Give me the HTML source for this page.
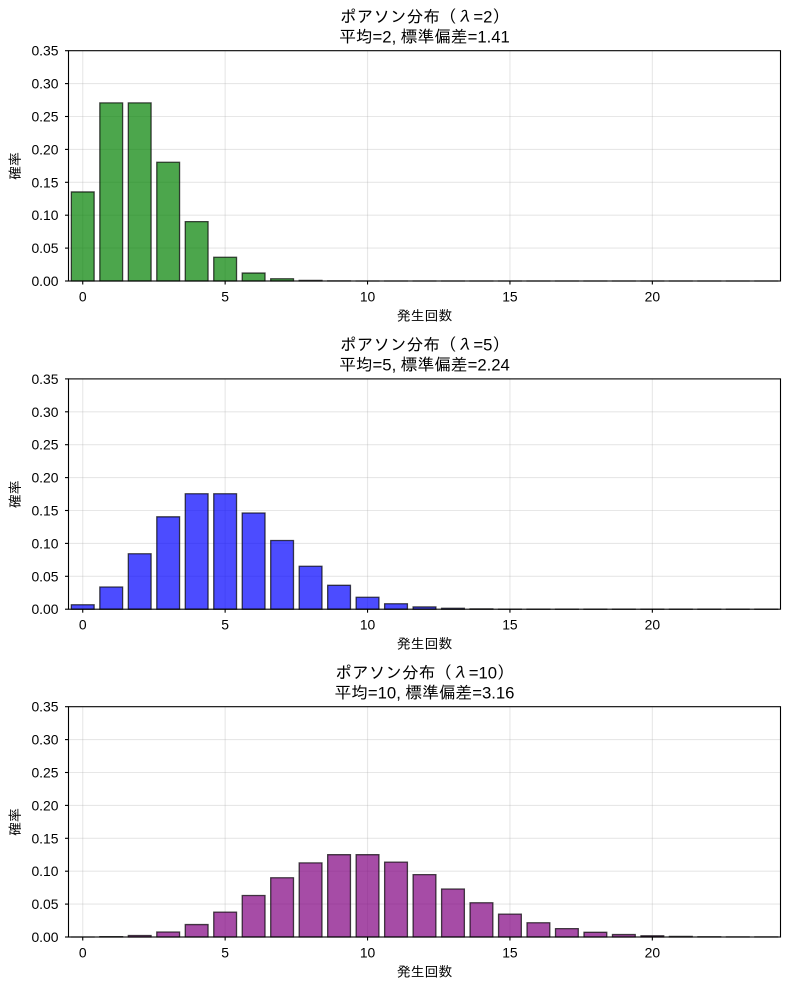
<!DOCTYPE html>
<html><head><meta charset="utf-8">
<style>
html,body{margin:0;padding:0;background:#fff;}
svg{display:block;}
text{font-family:"Liberation Sans","IPAGothic","Noto Sans CJK JP",sans-serif;fill:#000;}
.t{font-size:13.9px;}
.ti{font-size:16.7px;}
.lam{font-family:"IPAGothic","Noto Sans CJK JP",sans-serif;}
</style></head>
<body>
<svg width="790" height="989" viewBox="0 0 790 989" xmlns="http://www.w3.org/2000/svg">
<rect width="790" height="989" fill="#fff"/>
<defs>
<g id="frame">
  <g stroke="#b0b0b0" stroke-opacity="0.3" stroke-width="1.1">
    <line x1="68.5" x2="780.5" y1="248.1" y2="248.1"/>
    <line x1="68.5" x2="780.5" y1="215.2" y2="215.2"/>
    <line x1="68.5" x2="780.5" y1="182.3" y2="182.3"/>
    <line x1="68.5" x2="780.5" y1="149.4" y2="149.4"/>
    <line x1="68.5" x2="780.5" y1="116.5" y2="116.5"/>
    <line x1="68.5" x2="780.5" y1="83.6" y2="83.6"/>
    <line x1="82.74" x2="82.74" y1="50.7" y2="281"/>
    <line x1="225.14" x2="225.14" y1="50.7" y2="281"/>
    <line x1="367.54" x2="367.54" y1="50.7" y2="281"/>
    <line x1="509.94" x2="509.94" y1="50.7" y2="281"/>
    <line x1="652.34" x2="652.34" y1="50.7" y2="281"/>
  </g>
</g>
<g id="axes">
  <rect x="68.5" y="50.7" width="712" height="230.3" fill="none" stroke="#000" stroke-width="1.1"/>
  <g stroke="#000" stroke-width="1.1">
    <line x1="65" x2="68.5" y1="281" y2="281"/>
    <line x1="65" x2="68.5" y1="248.1" y2="248.1"/>
    <line x1="65" x2="68.5" y1="215.2" y2="215.2"/>
    <line x1="65" x2="68.5" y1="182.3" y2="182.3"/>
    <line x1="65" x2="68.5" y1="149.4" y2="149.4"/>
    <line x1="65" x2="68.5" y1="116.5" y2="116.5"/>
    <line x1="65" x2="68.5" y1="83.6" y2="83.6"/>
    <line x1="65" x2="68.5" y1="50.7" y2="50.7"/>
    <line x1="82.74" x2="82.74" y1="281" y2="284.5"/>
    <line x1="225.14" x2="225.14" y1="281" y2="284.5"/>
    <line x1="367.54" x2="367.54" y1="281" y2="284.5"/>
    <line x1="509.94" x2="509.94" y1="281" y2="284.5"/>
    <line x1="652.34" x2="652.34" y1="281" y2="284.5"/>
  </g>
  <g class="t" text-anchor="end">
    <text x="58.5" y="286">0.00</text>
    <text x="58.5" y="253.1">0.05</text>
    <text x="58.5" y="220.2">0.10</text>
    <text x="58.5" y="187.3">0.15</text>
    <text x="58.5" y="154.4">0.20</text>
    <text x="58.5" y="121.5">0.25</text>
    <text x="58.5" y="88.6">0.30</text>
    <text x="58.5" y="55.7">0.35</text>
  </g>
  <g class="t" text-anchor="middle">
    <text x="82.74" y="301.5">0</text>
    <text x="225.14" y="301.5">5</text>
    <text x="367.54" y="301.5">10</text>
    <text x="509.94" y="301.5">15</text>
    <text x="652.34" y="301.5">20</text>
    <text x="424.5" y="320.5">発生回数</text>
  </g>
  <text class="t" text-anchor="middle" transform="translate(20,166) rotate(-90)">確率</text>
</g>
</defs>

<!-- Subplot 1 -->
<g>
  <use href="#frame"/>
  <g transform="translate(82.74,281) scale(28.48,-658)" fill="green" fill-opacity="0.7" stroke="#000" stroke-opacity="0.7" stroke-width="1.3">
    <rect vector-effect="non-scaling-stroke" x="-0.4" y="0" width="0.8" height="0.135335"/>
    <rect vector-effect="non-scaling-stroke" x="0.6" y="0" width="0.8" height="0.270671"/>
    <rect vector-effect="non-scaling-stroke" x="1.6" y="0" width="0.8" height="0.270671"/>
    <rect vector-effect="non-scaling-stroke" x="2.6" y="0" width="0.8" height="0.180447"/>
    <rect vector-effect="non-scaling-stroke" x="3.6" y="0" width="0.8" height="0.090224"/>
    <rect vector-effect="non-scaling-stroke" x="4.6" y="0" width="0.8" height="0.036089"/>
    <rect vector-effect="non-scaling-stroke" x="5.6" y="0" width="0.8" height="0.012030"/>
    <rect vector-effect="non-scaling-stroke" x="6.6" y="0" width="0.8" height="0.003437"/>
    <rect vector-effect="non-scaling-stroke" x="7.6" y="0" width="0.8" height="0.000859"/>
    <rect vector-effect="non-scaling-stroke" x="8.6" y="0" width="0.8" height="0.000191"/>
    <rect vector-effect="non-scaling-stroke" x="9.6" y="0" width="0.8" height="0.000038"/>
    <rect vector-effect="non-scaling-stroke" x="10.6" y="0" width="0.8" height="0.000007"/>
    <rect vector-effect="non-scaling-stroke" x="11.6" y="0" width="0.8" height="0.000001"/>
    <rect vector-effect="non-scaling-stroke" x="12.6" y="0" width="0.8" height="0.000001"/>
    <rect vector-effect="non-scaling-stroke" x="13.6" y="0" width="0.8" height="0.000001"/>
    <rect vector-effect="non-scaling-stroke" x="14.6" y="0" width="0.8" height="0.000001"/>
    <rect vector-effect="non-scaling-stroke" x="15.6" y="0" width="0.8" height="0.000001"/>
    <rect vector-effect="non-scaling-stroke" x="16.6" y="0" width="0.8" height="0.000001"/>
    <rect vector-effect="non-scaling-stroke" x="17.6" y="0" width="0.8" height="0.000001"/>
    <rect vector-effect="non-scaling-stroke" x="18.6" y="0" width="0.8" height="0.000001"/>
    <rect vector-effect="non-scaling-stroke" x="19.6" y="0" width="0.8" height="0.000001"/>
    <rect vector-effect="non-scaling-stroke" x="20.6" y="0" width="0.8" height="0.000001"/>
    <rect vector-effect="non-scaling-stroke" x="21.6" y="0" width="0.8" height="0.000001"/>
    <rect vector-effect="non-scaling-stroke" x="22.6" y="0" width="0.8" height="0.000001"/>
    <rect vector-effect="non-scaling-stroke" x="23.6" y="0" width="0.8" height="0.000001"/>
  </g>
  <use href="#axes"/>
  <g class="ti" text-anchor="middle">
    <text x="424.5" y="22.5">ポアソン分布（<tspan class="lam">λ</tspan>=2）</text>
    <text x="424.5" y="42.5">平均=2, 標準偏差=1.41</text>
  </g>
</g>

<!-- Subplot 2 -->
<g transform="translate(0,328.2)">
  <use href="#frame"/>
  <g transform="translate(82.74,281) scale(28.48,-658)" fill="blue" fill-opacity="0.7" stroke="#000" stroke-opacity="0.7" stroke-width="1.3">
    <rect vector-effect="non-scaling-stroke" x="-0.4" y="0" width="0.8" height="0.006738"/>
    <rect vector-effect="non-scaling-stroke" x="0.6" y="0" width="0.8" height="0.033690"/>
    <rect vector-effect="non-scaling-stroke" x="1.6" y="0" width="0.8" height="0.084224"/>
    <rect vector-effect="non-scaling-stroke" x="2.6" y="0" width="0.8" height="0.140374"/>
    <rect vector-effect="non-scaling-stroke" x="3.6" y="0" width="0.8" height="0.175467"/>
    <rect vector-effect="non-scaling-stroke" x="4.6" y="0" width="0.8" height="0.175467"/>
    <rect vector-effect="non-scaling-stroke" x="5.6" y="0" width="0.8" height="0.146223"/>
    <rect vector-effect="non-scaling-stroke" x="6.6" y="0" width="0.8" height="0.104445"/>
    <rect vector-effect="non-scaling-stroke" x="7.6" y="0" width="0.8" height="0.065278"/>
    <rect vector-effect="non-scaling-stroke" x="8.6" y="0" width="0.8" height="0.036266"/>
    <rect vector-effect="non-scaling-stroke" x="9.6" y="0" width="0.8" height="0.018133"/>
    <rect vector-effect="non-scaling-stroke" x="10.6" y="0" width="0.8" height="0.008242"/>
    <rect vector-effect="non-scaling-stroke" x="11.6" y="0" width="0.8" height="0.003434"/>
    <rect vector-effect="non-scaling-stroke" x="12.6" y="0" width="0.8" height="0.001321"/>
    <rect vector-effect="non-scaling-stroke" x="13.6" y="0" width="0.8" height="0.000472"/>
    <rect vector-effect="non-scaling-stroke" x="14.6" y="0" width="0.8" height="0.000157"/>
    <rect vector-effect="non-scaling-stroke" x="15.6" y="0" width="0.8" height="0.000049"/>
    <rect vector-effect="non-scaling-stroke" x="16.6" y="0" width="0.8" height="0.000015"/>
    <rect vector-effect="non-scaling-stroke" x="17.6" y="0" width="0.8" height="0.000004"/>
    <rect vector-effect="non-scaling-stroke" x="18.6" y="0" width="0.8" height="0.000001"/>
    <rect vector-effect="non-scaling-stroke" x="19.6" y="0" width="0.8" height="0.000001"/>
    <rect vector-effect="non-scaling-stroke" x="20.6" y="0" width="0.8" height="0.000001"/>
    <rect vector-effect="non-scaling-stroke" x="21.6" y="0" width="0.8" height="0.000001"/>
    <rect vector-effect="non-scaling-stroke" x="22.6" y="0" width="0.8" height="0.000001"/>
    <rect vector-effect="non-scaling-stroke" x="23.6" y="0" width="0.8" height="0.000001"/>
  </g>
  <use href="#axes"/>
  <g class="ti" text-anchor="middle">
    <text x="424.5" y="22.5">ポアソン分布（<tspan class="lam">λ</tspan>=5）</text>
    <text x="424.5" y="42.5">平均=5, 標準偏差=2.24</text>
  </g>
</g>

<!-- Subplot 3 -->
<g transform="translate(0,656)">
  <use href="#frame"/>
  <g transform="translate(82.74,281) scale(28.48,-658)" fill="purple" fill-opacity="0.7" stroke="#000" stroke-opacity="0.7" stroke-width="1.3">
    <rect vector-effect="non-scaling-stroke" x="-0.4" y="0" width="0.8" height="0.000045"/>
    <rect vector-effect="non-scaling-stroke" x="0.6" y="0" width="0.8" height="0.000454"/>
    <rect vector-effect="non-scaling-stroke" x="1.6" y="0" width="0.8" height="0.002270"/>
    <rect vector-effect="non-scaling-stroke" x="2.6" y="0" width="0.8" height="0.007567"/>
    <rect vector-effect="non-scaling-stroke" x="3.6" y="0" width="0.8" height="0.018917"/>
    <rect vector-effect="non-scaling-stroke" x="4.6" y="0" width="0.8" height="0.037833"/>
    <rect vector-effect="non-scaling-stroke" x="5.6" y="0" width="0.8" height="0.063055"/>
    <rect vector-effect="non-scaling-stroke" x="6.6" y="0" width="0.8" height="0.090079"/>
    <rect vector-effect="non-scaling-stroke" x="7.6" y="0" width="0.8" height="0.112599"/>
    <rect vector-effect="non-scaling-stroke" x="8.6" y="0" width="0.8" height="0.125110"/>
    <rect vector-effect="non-scaling-stroke" x="9.6" y="0" width="0.8" height="0.125110"/>
    <rect vector-effect="non-scaling-stroke" x="10.6" y="0" width="0.8" height="0.113736"/>
    <rect vector-effect="non-scaling-stroke" x="11.6" y="0" width="0.8" height="0.094780"/>
    <rect vector-effect="non-scaling-stroke" x="12.6" y="0" width="0.8" height="0.072908"/>
    <rect vector-effect="non-scaling-stroke" x="13.6" y="0" width="0.8" height="0.052077"/>
    <rect vector-effect="non-scaling-stroke" x="14.6" y="0" width="0.8" height="0.034718"/>
    <rect vector-effect="non-scaling-stroke" x="15.6" y="0" width="0.8" height="0.021699"/>
    <rect vector-effect="non-scaling-stroke" x="16.6" y="0" width="0.8" height="0.012764"/>
    <rect vector-effect="non-scaling-stroke" x="17.6" y="0" width="0.8" height="0.007091"/>
    <rect vector-effect="non-scaling-stroke" x="18.6" y="0" width="0.8" height="0.003732"/>
    <rect vector-effect="non-scaling-stroke" x="19.6" y="0" width="0.8" height="0.001866"/>
    <rect vector-effect="non-scaling-stroke" x="20.6" y="0" width="0.8" height="0.000889"/>
    <rect vector-effect="non-scaling-stroke" x="21.6" y="0" width="0.8" height="0.000404"/>
    <rect vector-effect="non-scaling-stroke" x="22.6" y="0" width="0.8" height="0.000176"/>
    <rect vector-effect="non-scaling-stroke" x="23.6" y="0" width="0.8" height="0.000073"/>
  </g>
  <use href="#axes"/>
  <g class="ti" text-anchor="middle">
    <text x="424.5" y="22.5">ポアソン分布（<tspan class="lam">λ</tspan>=10）</text>
    <text x="424.5" y="42.5">平均=10, 標準偏差=3.16</text>
  </g>
</g>
</svg>
</body></html>
